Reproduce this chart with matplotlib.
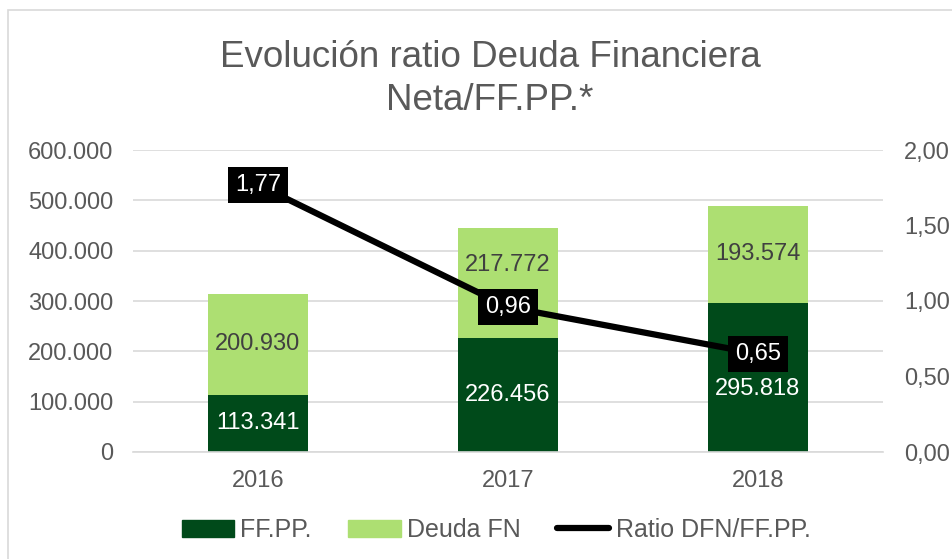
#!/usr/bin/env python3

import matplotlib
matplotlib.use('Agg')
import matplotlib.pyplot as plt
import matplotlib.patches as mpatches
from matplotlib.lines import Line2D
import numpy as np

years = ['2016', '2017', '2018']
ffpp = [113341, 226456, 295818]
deuda_fn = [200930, 217772, 193574]
ratio = [1.77, 0.96, 0.65]

dark_green = '#004A1A'
light_green = '#ADDF72'
grey_text = '#595959'
grid_col = '#D9D9D9'

plt.rcParams['font.family'] = ['Liberation Sans', 'DejaVu Sans']


def miles(v):
    # Spanish style thousands separator
    return '{:,}'.format(int(v)).replace(',', '.')


fig = plt.figure(figsize=(9.53, 5.59), dpi=100)

# outer chart frame (cut off at right and bottom like the reference)
fig.patches.append(mpatches.Rectangle((8 / 953, -0.1), 1.2, 1 - 10 / 559 + 0.1,
                                      transform=fig.transFigure, fill=False,
                                      edgecolor=grid_col, linewidth=1.2))

ax = fig.add_axes([133 / 953, 107 / 559, 750 / 953, 302 / 559])
ax2 = ax.twinx()

x = np.arange(len(years))
width = 0.4

ax.bar(x, ffpp, width, color=dark_green, label='FF.PP.', zorder=2)
ax.bar(x, deuda_fn, width, bottom=ffpp, color=light_green, label='Deuda FN', zorder=2)

# a couple of labels were nudged by hand in the original so they clear the line
ffpp_shift = [0, 0, -8]
deuda_shift = [0, 13, 0]
for i in range(len(years)):
    ax.annotate(miles(ffpp[i]), (x[i], ffpp[i] / 2), xytext=(0, ffpp_shift[i]),
                textcoords='offset points', ha='center', va='center',
                color='white', fontsize=17, zorder=3)
    ax.annotate(miles(deuda_fn[i]), (x[i], ffpp[i] + deuda_fn[i] / 2),
                xytext=(0, deuda_shift[i]), textcoords='offset points',
                ha='center', va='center', color='#404040', fontsize=17, zorder=3)

ax.set_xlim(-0.5, 2.5)
ax.set_ylim(0, 600000)
ax.set_yticks(np.arange(0, 600001, 100000))
ax.set_yticklabels([miles(v) for v in np.arange(0, 600001, 100000)])
ax.set_xticks(x)
ax.set_xticklabels(years)
ax.yaxis.grid(True, color=grid_col, linewidth=1.2, zorder=0)
ax.set_axisbelow(True)

for a in (ax, ax2):
    for s in a.spines.values():
        s.set_visible(False)
    a.tick_params(length=0, labelsize=17, labelcolor=grey_text)
ax.spines['bottom'].set_visible(True)
ax.spines['bottom'].set_color(grid_col)
ax.spines['bottom'].set_linewidth(1.2)
ax.tick_params(axis='y', pad=14)
ax.tick_params(axis='x', pad=13)
ax2.tick_params(axis='y', pad=15)

ax2.plot(x, ratio, color='black', linewidth=4.5, solid_capstyle='round', zorder=4)
ax2.set_ylim(0, 2)
ax2.set_yticks(np.arange(0, 2.01, 0.5))
ax2.set_yticklabels(['{:.2f}'.format(v).replace('.', ',') for v in np.arange(0, 2.01, 0.5)])

for i in range(len(years)):
    ax2.text(x[i], ratio[i], '{:.2f}'.format(ratio[i]).replace('.', ','),
             ha='center', va='center', color='white', fontsize=17, zorder=5,
             bbox=dict(boxstyle='square,pad=0.3', facecolor='black', edgecolor='none'))

fig.text(490 / 953, 1 - 79 / 559, 'Evolución ratio Deuda Financiera\nNeta/FF.PP.*',
         ha='center', va='center', fontsize=26.5, color=grey_text, linespacing=1.3)

handles = [mpatches.Patch(color=dark_green, label='FF.PP.'),
           mpatches.Patch(color=light_green, label='Deuda FN'),
           Line2D([0], [0], color='black', linewidth=4.5, solid_capstyle='round',
                  label='Ratio DFN/FF.PP.')]
fig.legend(handles=handles, loc='center', bbox_to_anchor=(496 / 953, 1 - 530 / 559),
           ncol=3, frameon=False, fontsize=18, labelcolor=grey_text,
           handlelength=2.1, handleheight=0.65, handletextpad=0.25, columnspacing=1.45)

plt.savefig('out.png', dpi=100)
plt.close()
